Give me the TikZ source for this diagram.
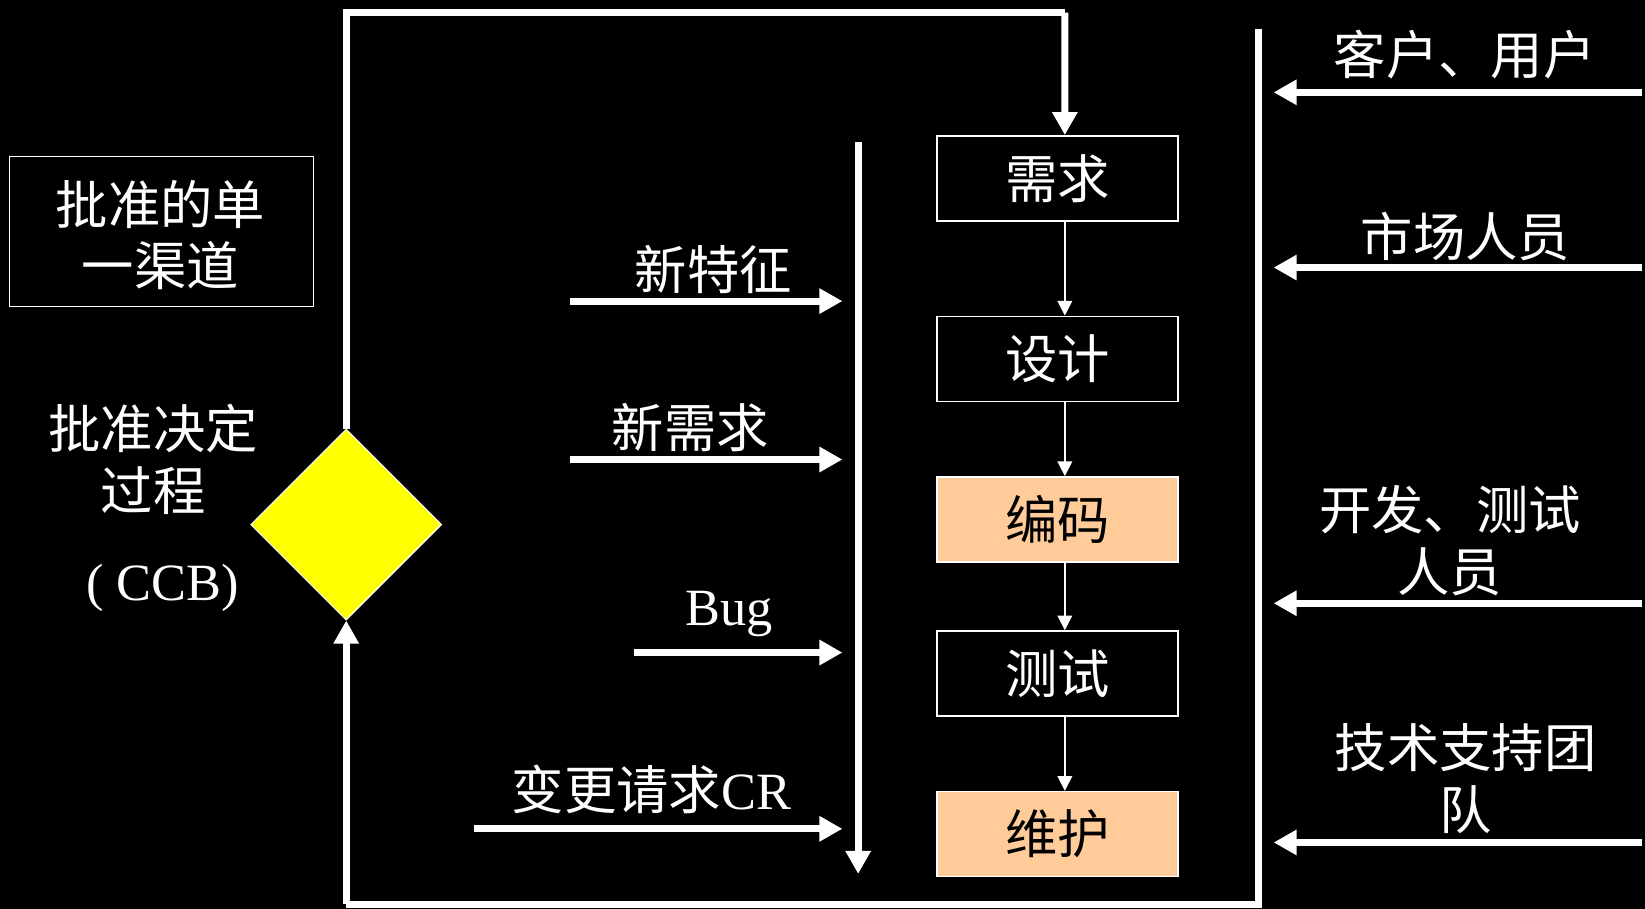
\documentclass[tikz,border=0pt]{standalone}
\usepackage{fontspec}
\setmainfont{Liberation Serif}
\newfontfamily\cjk{Noto Sans CJK SC}
\usetikzlibrary{arrows.meta,shapes.geometric}
\definecolor{peach}{HTML}{FFCC99}
\definecolor{yel}{HTML}{FFFF00}
\tikzset{
  txt/.style={text=white,font=\cjk\fontsize{28.4}{33.5}\selectfont,align=center,inner sep=0pt},
  stagebox/.style={draw=white,line width=0.85pt,minimum width=4.6cm,minimum height=1.62cm,inner sep=0pt,text=black,font=\cjk\fontsize{28.4}{33.5}\selectfont},
  thickline/.style={draw=white,line width=3.8pt},
  thickarrow/.style={thickline,-{Triangle[length=0.44cm,width=0.46cm]}},
  thinarrow/.style={draw=white,line width=0.9pt,-{Triangle[length=0.28cm,width=0.28cm]}},
}
\begin{document}
\begin{tikzpicture}[x=0.02cm,y=-0.02cm]
\fill[black] (0,0) rectangle (1568,866);
\useasboundingbox (0,0) rectangle (1568,866);

% left box
\node[draw=white,line width=0.85pt,minimum width=5.8cm,minimum height=2.86cm,inner sep=0pt] (chan) at (154,220.5) {};
\node[txt] (chant) at (153,224) {批准的单\\一渠道};

% decision text
\node[txt] (dect) at (146,438) {批准决定\\过程};
\node[txt,font=\fontsize{28.4}{33.5}\selectfont] (ccb) at (155,560) {( CCB)};

% diamond
\node[diamond,draw=white,line width=0.6pt,fill=yel,minimum width=3.64cm,minimum height=3.64cm,aspect=1,inner sep=0pt] (dia) at (330,500) {};

% stage boxes
\node[stagebox,text=white] (req) at (1008,170) {需求};
\node[stagebox,text=white] (des) at (1008,342) {设计};
\node[stagebox,fill=peach] (code) at (1008,495) {编码};
\node[stagebox,text=white] (test) at (1008,642) {测试};
\node[stagebox,fill=peach] (maint) at (1008,795) {维护};

\foreach \a/\b in {req/des,des/code,code/test,test/maint}
  \draw[thinarrow] ([xshift=0.14cm]\a.south) -- ([xshift=0.14cm]\b.north);

% top loop
\coordinate (tl) at (330,12);
\coordinate (tr) at (1015,12);
\draw[thickline] (dia.north) -- (tl) -- (tr);
\draw[thickarrow] (tr) -- ([xshift=0.14cm]req.north);

% bottom loop
\coordinate (rt) at (1200,28);
\coordinate (rb) at (1200,862);
\coordinate (lb) at (330,862);
\draw[thickline] (rt) -- (rb) -- (lb);
\draw[thickarrow] (lb) -- (dia.south);

% vertical input channel
\coordinate (vt) at (818,135);
\coordinate (vb) at (818,833);
\draw[thickarrow] (vt) -- (vb);

% left inputs
\coordinate (f1) at (543,287); \coordinate (t1) at (803,287);
\coordinate (f2) at (543,438); \coordinate (t2) at (803,438);
\coordinate (f3) at (604,622); \coordinate (t3) at (803,622);
\coordinate (f4) at (452,790); \coordinate (t4) at (803,790);
\foreach \i in {1,2,3,4} \draw[thickarrow] (f\i) -- (t\i);
\node[txt] (l1) at (680,257) {新特征};
\node[txt] (l2) at (658,408) {新需求};
\node[txt,font=\fontsize{28.4}{33.5}\selectfont] (l3) at (695,585) {Bug};
\node[txt] (l4) at (621,752) {变更请求\fontspec{Liberation Serif}CR};

% right inputs
\coordinate (g1) at (1565,88);  \coordinate (h1) at (1214,88);
\coordinate (g2) at (1565,255); \coordinate (h2) at (1214,255);
\coordinate (g3) at (1565,575); \coordinate (h3) at (1214,575);
\coordinate (g4) at (1565,803); \coordinate (h4) at (1214,803);
\foreach \i in {1,2,3,4} \draw[thickarrow] (g\i) -- (h\i);
\node[txt] (r1) at (1396,52) {客户、用户};
\node[txt] (r2) at (1397,225) {市场人员};
\node[txt] (r3) at (1382,515) {开发、测试\\人员};
\node[txt] (r4) at (1397,742) {技术支持团\\队};
\end{tikzpicture}
\end{document}
